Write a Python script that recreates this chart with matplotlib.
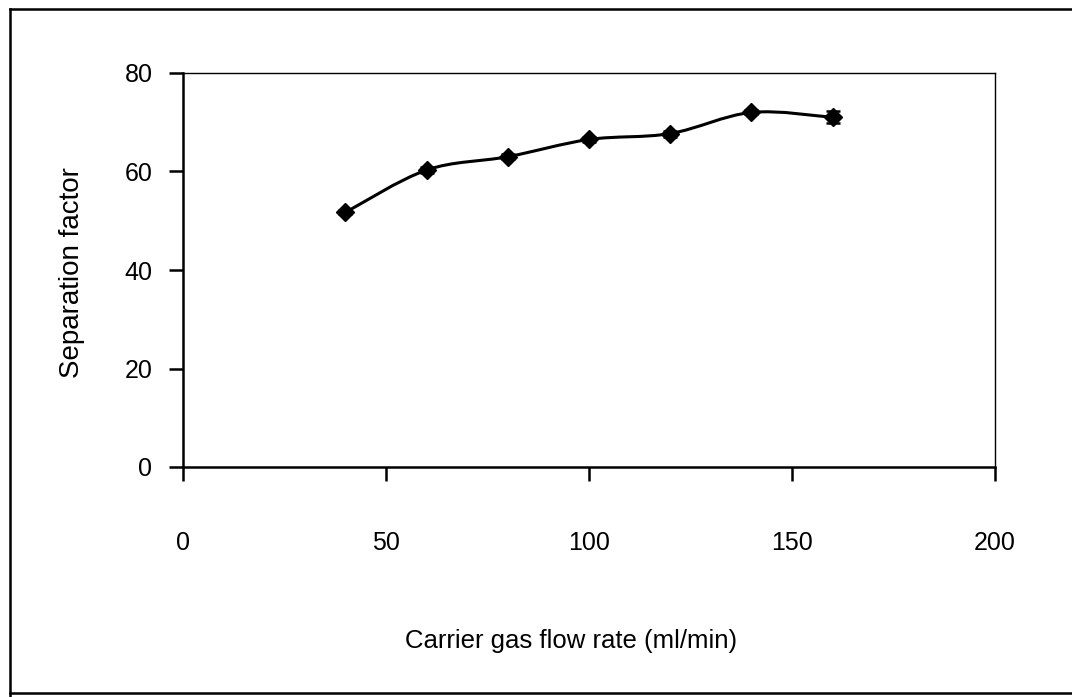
import matplotlib
matplotlib.use("Agg")
import matplotlib.pyplot as plt
from matplotlib.path import Path
from matplotlib.patches import PathPatch
from matplotlib.lines import Line2D

plt.rcParams['font.family'] = ['Liberation Sans', 'DejaVu Sans']

# Separation factor vs. carrier gas flow rate
flow_rate = [40, 60, 80, 100, 120, 140, 160]
separation = [51.7, 60.3, 63.0, 66.5, 67.7, 72.0, 71.0]
sep_error = [0.4, 0.6, 0.5, 0.5, 0.6, 0.4, 1.2]

x_ticks = [0, 50, 100, 150, 200]
y_ticks = [0, 20, 40, 60, 80]

fig = plt.figure(figsize=(10.72, 6.97), dpi=100)
ax = fig.add_axes([183 / 1072, 1 - 467 / 697, (995 - 183) / 1072, (467 - 73) / 697])

# smoothed connecting curve (Catmull-Rom style Bezier segments)
verts = [(flow_rate[0], separation[0])]
codes = [Path.MOVETO]
n = len(flow_rate)
for i in range(n - 1):
    x0, y0 = flow_rate[max(i - 1, 0)], separation[max(i - 1, 0)]
    x1, y1 = flow_rate[i], separation[i]
    x2, y2 = flow_rate[i + 1], separation[i + 1]
    x3, y3 = flow_rate[min(i + 2, n - 1)], separation[min(i + 2, n - 1)]
    t = 1 / 6
    c1 = (x1 + (x2 - x0) * t, y1 + (y2 - y0) * t)
    c2 = (x2 - (x3 - x1) * t, y2 - (y3 - y1) * t)
    verts += [c1, c2, (x2, y2)]
    codes += [Path.CURVE4] * 3
ax.add_patch(PathPatch(Path(verts, codes), facecolor='none', edgecolor='black', lw=2.2, zorder=2))

ax.errorbar(flow_rate, separation, yerr=sep_error, fmt='none', ecolor='black',
            elinewidth=1.8, capsize=5, capthick=1.8, zorder=3)
ax.plot(flow_rate, separation, linestyle='none', marker='D', markersize=9,
        color='black', zorder=4)

ax.set_xlim(0, 200)
ax.set_ylim(0, 80)
ax.set_xticks(x_ticks)
ax.set_yticks(y_ticks)

for side in ['left', 'bottom']:
    ax.spines[side].set_linewidth(1.8)
for side in ['top', 'right']:
    ax.spines[side].set_linewidth(1.0)

ax.tick_params(axis='x', direction='out', length=10, width=1.8, pad=36, labelsize=18)
ax.tick_params(axis='y', direction='out', length=10, width=1.8, pad=12, labelsize=18)

fig.text(571 / 1072, 1 - 641 / 697, 'Carrier gas flow rate (ml/min)', ha='center', va='center', fontsize=18.5)
fig.text(72 / 1072, 1 - 273 / 697, 'Separation factor', ha='center', va='center',
         rotation=90, fontsize=20)

# outer frame around the figure
for (xs, ys) in [([10, 10], [9, 696]), ([10, 1072], [9, 9]), ([10, 1072], [693, 693])]:
    fig.add_artist(Line2D([x / 1072 for x in xs], [1 - y / 697 for y in ys],
                          transform=fig.transFigure, color='black', lw=1.8))

fig.savefig('out.png', dpi=100)
